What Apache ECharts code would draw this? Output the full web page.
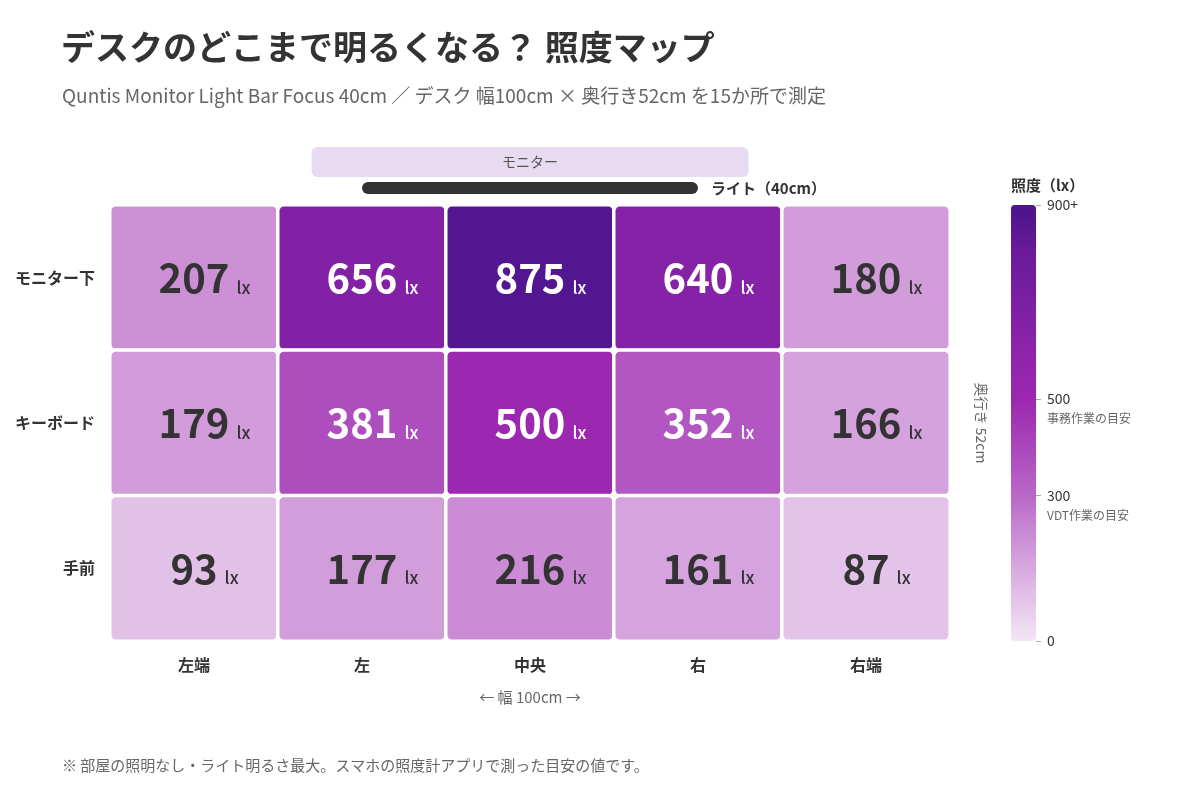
<!DOCTYPE html>
<html><head><meta charset="utf-8">
<script src="https://cdn.jsdelivr.net/npm/echarts@6/dist/echarts.min.js"></script>
<style>html,body{margin:0;padding:0;background:#fff}#c{width:1200px;height:800px}</style>
</head><body><div id="c"></div>
<script>
// ---- data ----
const columns = ['左端', '左', '中央', '右', '右端'];
const rows = ['モニター下', 'キーボード', '手前'];
const luxMonitor = [207, 656, 875, 640, 180];
const luxKeyboard = [179, 381, 500, 352, 166];
const luxFront = [93, 177, 216, 161, 87];
const scaleMax = 900;
const scaleTicks = [0, 300, 500, 900];
const tickNotes = { 300: 'VDT作業の目安', 500: '事務作業の目安' };
const deskWidthCm = 100;
const lightCm = 40;
const monitorCm = 52;

// ---- style ----
const FONT = 'Noto Sans CJK JP';
const palette = ['#f3e5f5', '#e1bee7', '#ce93d8', '#ba68c8', '#ab47bc', '#9c27b0', '#8e24aa', '#7b1fa2', '#6a1b9a', '#4a148c'];
const GRID = { left: 110, top: 205, width: 840, height: 436 };
const LEG = { left: 1011, top: 205, width: 25, height: 436 };

const rowValues = [luxMonitor, luxKeyboard, luxFront];
const heatData = [];
rowValues.forEach((vals, r) => vals.forEach((v, c) => heatData.push([c, r, v])));

const cx = GRID.left + GRID.width / 2;
const monitorW = GRID.width * monitorCm / deskWidthCm;
const lightW = GRID.width * lightCm / deskWidthCm;

const chart = echarts.init(document.getElementById('c'), null, { renderer: 'canvas' });
chart.setOption({
  backgroundColor: '#fff',
  textStyle: { fontFamily: FONT },
  animation: false,
  title: [
    { text: 'デスクのどこまで明るくなる？ 照度マップ', left: 56, top: 25,
      textStyle: { fontFamily: FONT, fontSize: 34, fontWeight: 'bold', color: '#333' } },
    { text: 'Quntis Monitor Light Bar Focus 40cm ／ デスク 幅100cm × 奥行き52cm を15か所で測定', left: 57, top: 81,
      textStyle: { fontFamily: FONT, fontSize: 19, fontWeight: 'normal', color: '#666' } },
    { text: '※ 部屋の照明なし・ライト明るさ最大。スマホの照度計アプリで測った目安の値です。', left: 57, top: 753,
      textStyle: { fontFamily: FONT, fontSize: 15, fontWeight: 'normal', color: '#666' } }
  ],
  grid: [
    { left: GRID.left, top: GRID.top, width: GRID.width, height: GRID.height },
    { left: LEG.left, top: LEG.top, width: LEG.width, height: LEG.height }
  ],
  xAxis: [
    { type: 'category', gridIndex: 0, data: columns,
      axisLine: { show: false }, axisTick: { show: false }, splitArea: { show: false },
      axisLabel: { fontFamily: FONT, fontSize: 16, fontWeight: 'bold', color: '#333', margin: 16 },
      name: '← 幅 100cm →', nameLocation: 'middle', nameGap: 49,
      nameTextStyle: { fontFamily: FONT, fontSize: 15, color: '#666' } },
    { type: 'category', gridIndex: 1, data: ['c'], show: false }
  ],
  yAxis: [
    { type: 'category', gridIndex: 0, data: rows, inverse: true,
      axisLine: { show: false }, axisTick: { show: false },
      axisLabel: { fontFamily: FONT, fontSize: 16, fontWeight: 'bold', color: '#333', margin: 15 } },
    { type: 'category', gridIndex: 0, data: rows, inverse: true, position: 'right',
      axisLine: { show: false }, axisTick: { show: false }, axisLabel: { show: false },
      name: '奥行き 52cm', nameLocation: 'middle', nameRotate: -90, nameGap: 24,
      nameTextStyle: { fontFamily: FONT, fontSize: 14, color: '#666' } },
    { type: 'value', gridIndex: 1, min: 0, max: scaleMax, position: 'right',
      axisLine: { show: false }, splitLine: { show: false },
      axisTick: { show: true, customValues: scaleTicks, length: 5, lineStyle: { color: '#aaa', width: 1 } },
      axisLabel: { customValues: scaleTicks, margin: 11, fontFamily: FONT,
        formatter: v => {
          if (v === scaleMax) return '{v|' + v + '+}';
          if (tickNotes[v]) return '{e| }\n{v|' + v + '}\n{s|' + tickNotes[v] + '}';
          return '{v|' + v + '}';
        },
        rich: {
          e: { fontSize: 12, lineHeight: 20 },
          v: { fontSize: 14, lineHeight: 20, color: '#333', fontFamily: FONT },
          s: { fontSize: 12, lineHeight: 20, color: '#666', fontFamily: FONT }
        } } }
  ],
  visualMap: {
    show: false, type: 'continuous', seriesIndex: 0, dimension: 2,
    min: 0, max: scaleMax, inRange: { color: palette }
  },
  series: [
    { type: 'heatmap', xAxisIndex: 0, yAxisIndex: 0, data: heatData,
      itemStyle: { borderColor: '#fff', borderWidth: 3.5, borderRadius: 6 },
      emphasis: { disabled: true },
      label: { show: true,
        formatter: p => {
          const v = p.value[2];
          const k = v >= 300 ? 'w' : 'd';
          return '{p|}{n' + k + '|' + v + '}{u' + k + '|lx}';
        },
        rich: {
          p: { width: 21 },
          nd: { fontFamily: FONT, fontSize: 40, fontWeight: 'bold', color: '#333', lineHeight: 48 },
          nw: { fontFamily: FONT, fontSize: 40, fontWeight: 'bold', color: '#fff', lineHeight: 48 },
          ud: { fontFamily: FONT, fontSize: 17, fontWeight: 500, color: '#333', width: 21, align: 'right', verticalAlign: 'bottom', lineHeight: 20, padding: [0, 0, 6, 0] },
          uw: { fontFamily: FONT, fontSize: 17, fontWeight: 500, color: '#fff', width: 21, align: 'right', verticalAlign: 'bottom', lineHeight: 20, padding: [0, 0, 6, 0] }
        } } },
    { type: 'bar', xAxisIndex: 1, yAxisIndex: 2, data: [scaleMax], barWidth: '100%', silent: true,
      itemStyle: { borderRadius: 4,
        color: new echarts.graphic.LinearGradient(0, 0, 0, 1,
          palette.map((c, i) => ({ offset: 1 - i / (palette.length - 1), color: c })).reverse()) } }
  ],
  graphic: [
    { type: 'rect', shape: { x: cx - monitorW / 2, y: 147, width: monitorW, height: 30, r: 6 },
      style: { fill: '#e8daf0' }, silent: true },
    { type: 'text', x: cx, y: 162, style: { text: 'モニター', fill: '#555', font: '14px "' + FONT + '"', align: 'center', verticalAlign: 'middle' }, silent: true },
    { type: 'rect', shape: { x: cx - lightW / 2, y: 182, width: lightW, height: 12, r: 6 },
      style: { fill: '#333' }, silent: true },
    { type: 'text', x: cx + lightW / 2 + 13, y: 188, style: { text: 'ライト（40cm）', fill: '#333', font: 'bold 15px "' + FONT + '"', align: 'left', verticalAlign: 'middle' }, silent: true },
    { type: 'text', x: LEG.left, y: 185, style: { text: '照度（lx）', fill: '#333', font: 'bold 15px "' + FONT + '"', align: 'left', verticalAlign: 'middle' }, silent: true }
  ]
});
</script></body></html>
